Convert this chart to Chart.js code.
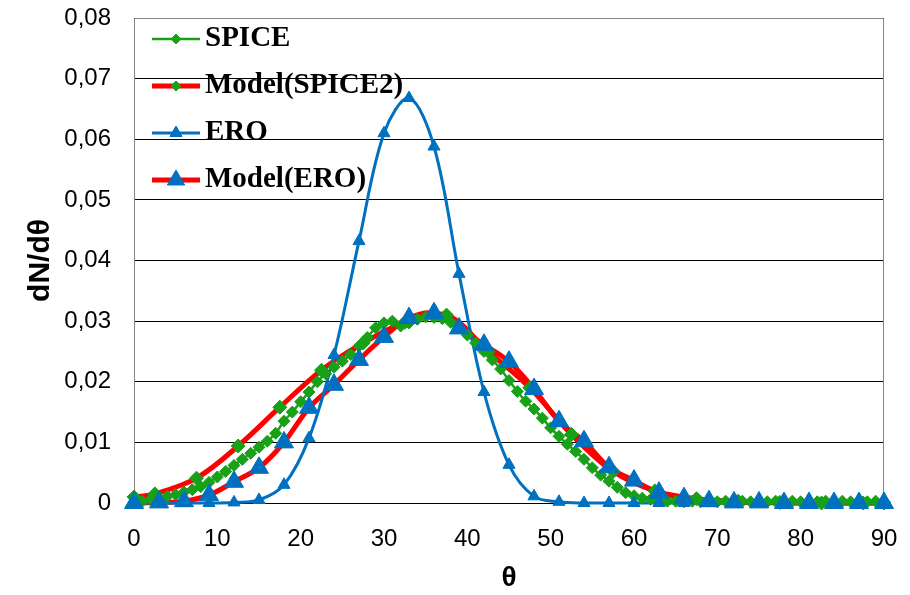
<!DOCTYPE html>
<html>
<head>
<meta charset="utf-8">
<script src="https://cdn.jsdelivr.net/npm/chart.js@4.4.1/dist/chart.umd.min.js"></script>
<style>
html,body{margin:0;padding:0;background:#fff;}
canvas{display:block;}
</style>
</head>
<body>
<canvas id="c" width="910" height="595"></canvas>
<script>
// ---- data ----
const spiceTheta = [0,1,2,3,4,5,6,7,8,9,10,11,12,13,14,15,16,17,18,19,20,21,22,23,24,25,26,27,28,29,30,31,32,33,34,35,36,37,38,39,40,41,42,43,44,45,46,47,48,49,50,51,52,53,54,55,56,57,58,59,60,61,62,63,64,65,66,67,68,69,70,71,72,73,74,75,76,77,78,79,80,81,82,83,84,85,86,87,88,89,90];
const spiceValues = [0.0000,0.0003,0.0006,0.0008,0.0011,0.0014,0.0018,0.0022,0.0027,0.0034,
  0.0043,0.0052,0.0062,0.0072,0.0082,0.0092,0.0102,0.0115,0.0135,0.0150,
  0.0167,0.0183,0.0200,0.0213,0.0224,0.0234,0.0245,0.0259,0.0273,0.0289,
  0.0297,0.0300,0.0292,0.0297,0.0303,0.0307,0.0306,0.0304,0.0298,0.0289,
  0.0277,0.0264,0.0250,0.0236,0.0221,0.0202,0.0184,0.0168,0.0155,0.0140,
  0.0124,0.0110,0.0097,0.0085,0.0072,0.0058,0.0046,0.0036,0.0026,0.0017,
  0.0012,0.0008,0.0006,0.0004,0.0003,0.0003,0.0002,0.0003,0.0002,0.0003,
  0.0002,0.0003,0.0002,0.0003,0.0002,0.0003,0.0002,0.0003,0.0002,0.0003,
  0.0002,0.0003,0.0002,0.0003,0.0002,0.0003,0.0002,0.0003,0.0002,0.0003,0.0002];

const modelSpiceTheta = [0,2.5,7.5,12.5,17.5,22.5,27.5,32.5,37.5,42.5,47.5,52.5,57.5,62.5,67.5,72.5,77.5,82.5,87.5,90];
const modelSpiceValues = [0.0010,0.0015,0.0041,0.0094,0.0158,0.0219,0.0264,0.0298,0.0310,0.0250,0.0190,0.0113,0.0052,0.0020,0.0007,0.0003,0.0001,0.0000,0.0000,0.0000];

const eroTheta = [0,3,6,9,12,15,18,21,24,27,30,33,36,39,42,45,48,51,54,57,60,63,66,69,72,75,78,81,84,87,90];
const eroValues = [0,0,0,0.0000,0.0001,0.0005,0.0030,0.0107,0.0244,0.0432,0.0610,0.0668,0.0588,0.0378,0.0183,0.0063,0.0011,0.0002,0,0,0,0,0,0,0,0,0,0,0,0,0];
const modelEroValues = [0.0000,0.0001,0.0003,0.0013,0.0035,0.0058,0.0100,0.0157,0.0195,0.0236,0.0274,0.0305,0.0313,0.0288,0.0261,0.0233,0.0188,0.0135,0.0102,0.0059,0.0037,0.0017,0.0008,0.0003,0.0001,0.0001,0,0,0,0,0];

const xTicksMax = 90, xStep = 10;
const yTicksMax = 0.08, yStep = 0.01;

const seriesNames = ['SPICE','Model(SPICE2)','ERO','Model(ERO)'];

// ---- styling ----
const GREEN = '#18a018', RED = '#ff0000', BLUE = '#0070c0';
const pts = (xs, ys) => xs.map((x, i) => ({x: x, y: ys[i]}));

const series = [
  {name: seriesNames[0], data: pts(spiceTheta, spiceValues), line: GREEN, lw: 2.5, style: 'rectRot', mark: GREEN, r: 6, lr: 5},
  {name: seriesNames[1], data: pts(modelSpiceTheta, modelSpiceValues), line: RED, lw: 5, style: 'rectRot', mark: GREEN, r: 7, lr: 5},
  {name: seriesNames[2], data: pts(eroTheta, eroValues), line: BLUE, lw: 3, style: 'triangle', mark: BLUE, r: 7, lr: 7},
  {name: seriesNames[3], data: pts(eroTheta, modelEroValues), line: RED, lw: 5, style: 'triangle', mark: BLUE, r: 11, lr: 10}
];
const lineOrder = [14, 13, 11, 12];
const datasets = [];
series.forEach((s, i) => {
  datasets.push({label: s.name, data: s.data, borderColor: s.line, borderWidth: s.lw, pointRadius: 0,
    tension: 0.35, fill: false, order: lineOrder[i], clip: false});
});
series.forEach((s, i) => {
  datasets.push({label: s.name + ' markers', data: s.data, showLine: false, pointStyle: s.style, pointRadius: s.r,
    pointBackgroundColor: s.mark, pointBorderColor: s.mark, pointBorderWidth: 1, order: 4 - i, clip: false});
});

function drawMarker(ctx, style, x, y, r) {
  ctx.beginPath();
  if (style === 'triangle') {
    const half = r * Math.sqrt(3) / 2;
    ctx.moveTo(x, y - r);
    ctx.lineTo(x + half, y + r / 2);
    ctx.lineTo(x - half, y + r / 2);
  } else {
    ctx.moveTo(x, y - r);
    ctx.lineTo(x + r, y);
    ctx.lineTo(x, y + r);
    ctx.lineTo(x - r, y);
  }
  ctx.closePath();
  ctx.fill();
  ctx.stroke();
}

const legendPlugin = {
  id: 'insideLegend',
  afterDatasetsDraw(chart) {
    const ctx = chart.ctx;
    const x0 = 152, x1 = 200, tx = 205, y0 = 39, dy = 47;
    series.forEach((s, i) => {
      const y = y0 + i * dy;
      ctx.save();
      ctx.strokeStyle = s.line; ctx.lineWidth = s.lw;
      ctx.beginPath(); ctx.moveTo(x0, y); ctx.lineTo(x1, y); ctx.stroke();
      ctx.fillStyle = s.mark; ctx.strokeStyle = s.mark; ctx.lineWidth = 1;
      drawMarker(ctx, s.style, (x0 + x1) / 2, y, s.lr);
      ctx.fillStyle = '#000';
      ctx.font = 'bold 29px "Liberation Serif", "Times New Roman", serif';
      ctx.textBaseline = 'middle'; ctx.textAlign = 'left';
      ctx.fillText(s.name, tx, y);
      ctx.restore();
    });
  }
};

const framePlugin = {
  id: 'frame',
  beforeDatasetsDraw(chart) {
    const {ctx, chartArea} = chart;
    const l = Math.round(chartArea.left) + 0.5, t = Math.round(chartArea.top) + 0.5;
    const r = Math.round(chartArea.right) - 0.5, b = Math.round(chartArea.bottom);
    ctx.save();
    ctx.strokeStyle = '#868686'; ctx.lineWidth = 1;
    ctx.beginPath();
    ctx.moveTo(l, b); ctx.lineTo(l, t); ctx.lineTo(r, t); ctx.lineTo(r, b);
    ctx.stroke();
    ctx.restore();
  }
};

const SANS = '"Liberation Sans", Arial, sans-serif';
const CLEAR = 'rgba(0,0,0,0)';

new Chart(document.getElementById('c'), {
  type: 'line',
  data: {datasets: datasets},
  options: {
    responsive: false,
    animation: false,
    devicePixelRatio: 1,
    layout: {padding: {top: 18, right: 26, left: 0, bottom: 0}},
    plugins: {legend: {display: false}, tooltip: {enabled: false}},
    scales: {
      x: {
        type: 'linear', min: 0, max: xTicksMax,
        ticks: {stepSize: xStep, padding: 0, color: '#000', font: {family: SANS, size: 24}, maxRotation: 0},
        grid: {display: true, color: CLEAR, tickColor: CLEAR, drawTicks: true, tickLength: 22},
        border: {display: false},
        title: {display: true, text: 'θ', color: '#000', font: {family: SANS, size: 28, weight: 'bold'}, padding: {top: 0, bottom: 0}},
        afterFit(s) { s.height = 92; }
      },
      y: {
        min: 0, max: yTicksMax,
        ticks: {stepSize: yStep, padding: 0, color: '#000', font: {family: SANS, size: 24},
          callback: v => (Math.abs(v) < 1e-9 ? '0' : v.toFixed(2).replace('.', ','))},
        grid: {color: '#000', lineWidth: 1, drawTicks: true, tickLength: 23, tickColor: CLEAR},
        border: {display: false},
        title: {display: true, text: 'dN/dθ', color: '#000', font: {family: SANS, size: 30, weight: 'bold'}, padding: {top: 23, bottom: 0}},
        afterFit(s) { s.width = 134; }
      }
    }
  },
  plugins: [framePlugin, legendPlugin]
});
</script>
</body>
</html>
